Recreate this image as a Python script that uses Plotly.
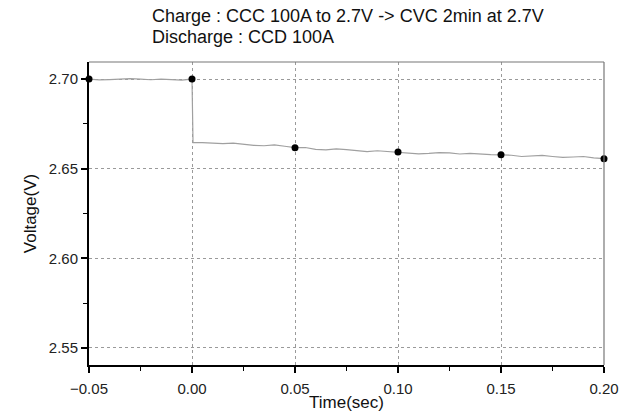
import plotly.graph_objects as go

# Voltage trace
time_s = [-0.05, -0.045, -0.04, -0.035, -0.03, -0.025, -0.02, -0.015, -0.01, -0.005, 0.0,
          0.0005, 0.005, 0.01, 0.015, 0.02, 0.025, 0.03, 0.035, 0.04, 0.045, 0.05,
          0.055, 0.06, 0.065, 0.07, 0.075, 0.08, 0.085, 0.09, 0.095, 0.10,
          0.105, 0.11, 0.115, 0.12, 0.125, 0.13, 0.135, 0.14, 0.145, 0.15,
          0.155, 0.16, 0.165, 0.17, 0.175, 0.18, 0.185, 0.19, 0.195, 0.20]
voltage = [2.7000, 2.6995, 2.6997, 2.7001, 2.7002, 2.6999, 2.6996, 2.6999, 2.6998, 2.6994, 2.7000,
           2.6645, 2.6645, 2.6642, 2.6640, 2.6643, 2.6636, 2.6630, 2.6628, 2.6633, 2.6625, 2.6617,
           2.6618, 2.6608, 2.6605, 2.6610, 2.6606, 2.6600, 2.6595, 2.6600, 2.6596, 2.6593,
           2.6590, 2.6583, 2.6585, 2.6590, 2.6588, 2.6582, 2.6585, 2.6580, 2.6578, 2.6577,
           2.6575, 2.6568, 2.6570, 2.6574, 2.6568, 2.6563, 2.6565, 2.6568, 2.6560, 2.6556]

marker_t = [-0.05, 0.0, 0.05, 0.10, 0.15, 0.20]
marker_v = [2.7000, 2.7000, 2.6617, 2.6593, 2.6577, 2.6556]

x_ticks = [-0.05, 0.0, 0.05, 0.10, 0.15, 0.20]
x_labels = ["\u22120.05", "0.00", "0.05", "0.10", "0.15", "0.20"]
y_ticks = [2.55, 2.60, 2.65, 2.70]
y_labels = ["2.55", "2.60", "2.65", "2.70"]

title_lines = ["Charge : CCC 100A to 2.7V -> CVC 2min at 2.7V", "Discharge : CCD 100A"]

FONT = "Liberation Sans, Arial, sans-serif"
W, H = 632, 412
L, R, T, B = 89, 28, 62, 47
PW, PH = W - L - R, H - T - B

def px_to_paper_x(px):
    return (px - L) / PW

def px_to_paper_y(py):
    return (H - B - py) / PH

fig = go.Figure()
fig.add_trace(go.Scatter(x=time_s, y=voltage, mode="lines",
                         line=dict(color="#a0a0a0", width=1.2), hoverinfo="skip"))
fig.add_trace(go.Scatter(x=marker_t, y=marker_v, mode="markers",
                         marker=dict(color="black", size=7), cliponaxis=False))

title_ann = []
for i, (line, ypx) in enumerate(zip(title_lines, [16, 37])):
    title_ann.append(dict(text=line, xref="paper", yref="paper",
                          x=px_to_paper_x(150), y=px_to_paper_y(ypx),
                          xanchor="left", yanchor="middle", align="left",
                          showarrow=False, font=dict(family=FONT, size=18, color="#111")))

fig.update_layout(
    width=W, height=H,
    margin=dict(l=L, r=R, t=T, b=B),
    paper_bgcolor="white", plot_bgcolor="white",
    showlegend=False,
    font=dict(family=FONT, color="#222", size=15),
    annotations=title_ann,
    shapes=[
        dict(type="line", xref="paper", yref="paper", x0=0, x1=1, y0=1, y1=1,
             line=dict(color="#777", width=1.2)),
        dict(type="line", xref="paper", yref="paper", x0=1, x1=1, y0=0, y1=1,
             line=dict(color="#777", width=1.2)),
    ],
)

fig.update_xaxes(range=[-0.05, 0.20], tickvals=x_ticks, ticktext=x_labels,
                 showline=True, linecolor="black", linewidth=2,
                 ticks="outside", ticklen=6, tickwidth=1.5, tickcolor="black",
                 showgrid=True, gridcolor="#9a9a9a", griddash="dot", gridwidth=1,
                 zeroline=False, ticklabelstandoff=3, automargin=False,
                 minor=dict(ticks="outside", ticklen=4, tickwidth=1.2, tickcolor="black",
                            tickvals=[-0.025, 0.025, 0.075, 0.125, 0.175], showgrid=False),
                 title=dict(text="Time(sec)", standoff=0, font=dict(size=17, color="#111")),
                 tickfont=dict(size=15))
fig.update_yaxes(range=[2.5405, 2.7095], tickvals=y_ticks, ticktext=y_labels,
                 showline=True, linecolor="black", linewidth=2,
                 ticks="outside", ticklen=6, tickwidth=1.5, tickcolor="black",
                 showgrid=True, gridcolor="#9a9a9a", griddash="dot", gridwidth=1,
                 zeroline=False, automargin=False,
                 minor=dict(ticks="outside", ticklen=4, tickwidth=1.2, tickcolor="black",
                            tickvals=[2.575, 2.625, 2.675], showgrid=False),
                 title=dict(text="Voltage(V)", standoff=8, font=dict(size=17, color="#111")),
                 tickfont=dict(size=15))

fig.write_html("out.html")
